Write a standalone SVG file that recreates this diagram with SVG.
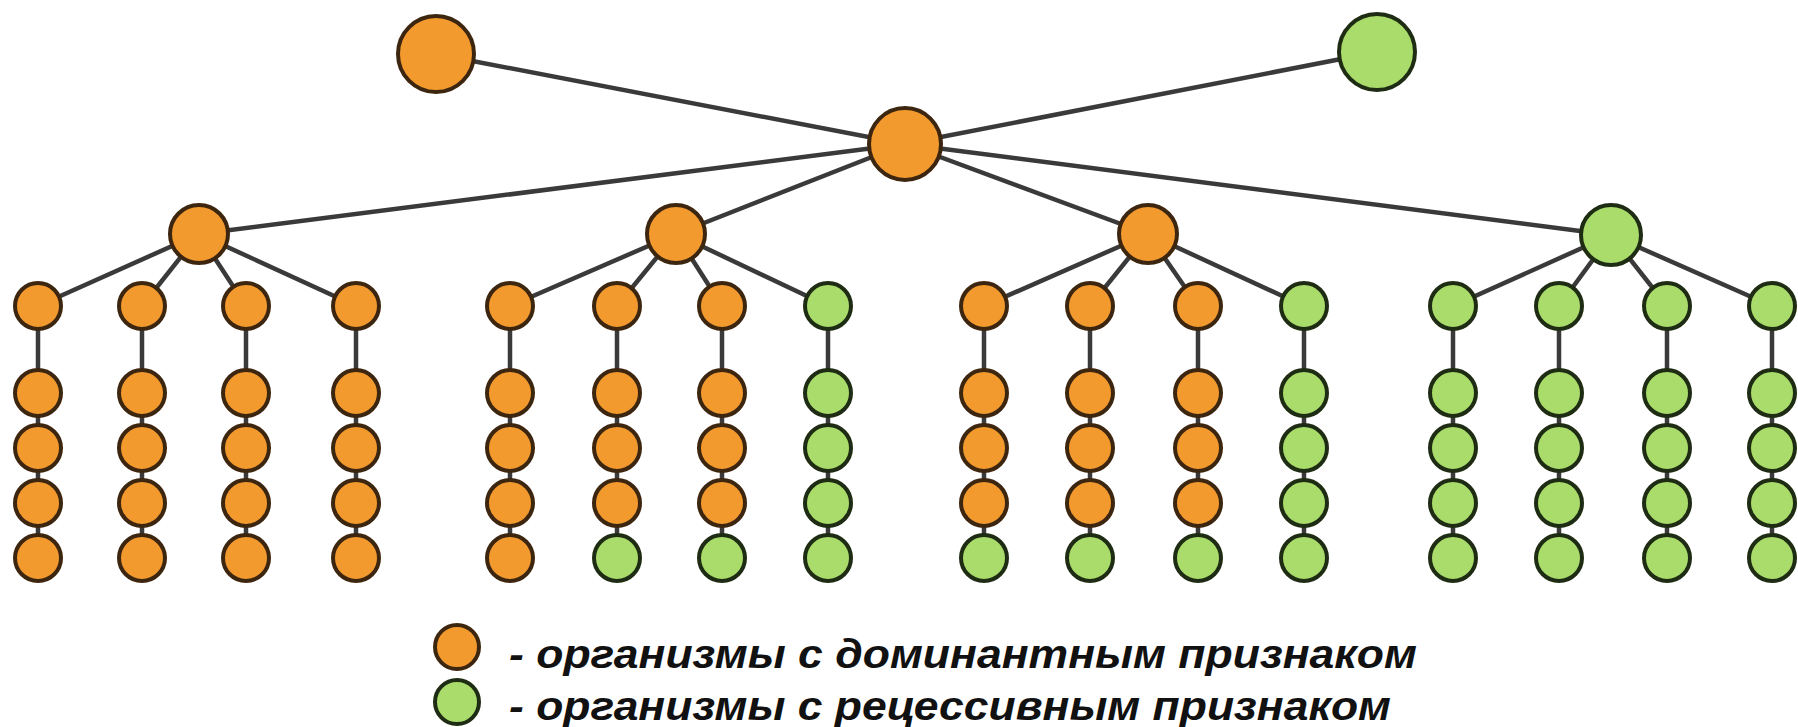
<svg xmlns="http://www.w3.org/2000/svg" width="1798" height="727" viewBox="0 0 1798 727">
<style>
.o{fill:#f39a2e;stroke:#3d2610;stroke-width:4}
.g{fill:#a9dc6a;stroke:#1f2c14;stroke-width:4}
.c line{stroke:#3a3a3a;stroke-width:4.5;stroke-linecap:round}
.t{font-family:"Liberation Sans",Arial,sans-serif;font-weight:bold;font-style:italic;font-size:40px;fill:#111}
</style>
<rect width="1798" height="727" fill="#fff"/>
<g id="connectors" class="c">
<line x1="436" y1="54" x2="905" y2="144"/>
<line x1="1377" y1="52" x2="905" y2="144"/>
<line x1="905" y1="144" x2="199" y2="234"/>
<line x1="905" y1="144" x2="676" y2="234"/>
<line x1="905" y1="144" x2="1148" y2="234"/>
<line x1="905" y1="144" x2="1611" y2="235"/>
<line x1="199" y1="234" x2="38" y2="306"/><line x1="199" y1="234" x2="142" y2="306"/><line x1="199" y1="234" x2="246" y2="306"/><line x1="199" y1="234" x2="356" y2="306"/>
<line x1="676" y1="234" x2="510" y2="306"/><line x1="676" y1="234" x2="617" y2="306"/><line x1="676" y1="234" x2="722" y2="306"/><line x1="676" y1="234" x2="828" y2="306"/>
<line x1="1148" y1="234" x2="984" y2="306"/><line x1="1148" y1="234" x2="1090" y2="306"/><line x1="1148" y1="234" x2="1198" y2="306"/><line x1="1148" y1="234" x2="1304" y2="306"/>
<line x1="1611" y1="235" x2="1453" y2="306"/><line x1="1611" y1="235" x2="1559" y2="306"/><line x1="1611" y1="235" x2="1667" y2="306"/><line x1="1611" y1="235" x2="1772" y2="306"/>
<line x1="38" y1="306" x2="38" y2="558"/><line x1="142" y1="306" x2="142" y2="558"/><line x1="246" y1="306" x2="246" y2="558"/><line x1="356" y1="306" x2="356" y2="558"/>
<line x1="510" y1="306" x2="510" y2="558"/><line x1="617" y1="306" x2="617" y2="558"/><line x1="722" y1="306" x2="722" y2="558"/><line x1="828" y1="306" x2="828" y2="558"/>
<line x1="984" y1="306" x2="984" y2="558"/><line x1="1090" y1="306" x2="1090" y2="558"/><line x1="1198" y1="306" x2="1198" y2="558"/><line x1="1304" y1="306" x2="1304" y2="558"/>
<line x1="1453" y1="306" x2="1453" y2="558"/><line x1="1559" y1="306" x2="1559" y2="558"/><line x1="1667" y1="306" x2="1667" y2="558"/><line x1="1772" y1="306" x2="1772" y2="558"/>
</g>
<g id="parent-dominant"><circle class="o" cx="436" cy="54" r="38"/></g>
<g id="parent-recessive"><circle class="g" cx="1377" cy="52" r="38"/></g>
<g id="f1"><circle class="o" cx="905" cy="144" r="36"/></g>
<g id="f2-1"><circle class="o" cx="199" cy="234" r="29"/></g>
<g id="f2-2"><circle class="o" cx="676" cy="234" r="29"/></g>
<g id="f2-3"><circle class="o" cx="1148" cy="234" r="29"/></g>
<g id="f2-4"><circle class="g" cx="1611" cy="235" r="30"/></g>
<g id="group1">
<circle class="o" cx="38" cy="306" r="23"/><circle class="o" cx="38" cy="393" r="23"/><circle class="o" cx="38" cy="448" r="23"/><circle class="o" cx="38" cy="503" r="23"/><circle class="o" cx="38" cy="558" r="23"/>
<circle class="o" cx="142" cy="306" r="23"/><circle class="o" cx="142" cy="393" r="23"/><circle class="o" cx="142" cy="448" r="23"/><circle class="o" cx="142" cy="503" r="23"/><circle class="o" cx="142" cy="558" r="23"/>
<circle class="o" cx="246" cy="306" r="23"/><circle class="o" cx="246" cy="393" r="23"/><circle class="o" cx="246" cy="448" r="23"/><circle class="o" cx="246" cy="503" r="23"/><circle class="o" cx="246" cy="558" r="23"/>
<circle class="o" cx="356" cy="306" r="23"/><circle class="o" cx="356" cy="393" r="23"/><circle class="o" cx="356" cy="448" r="23"/><circle class="o" cx="356" cy="503" r="23"/><circle class="o" cx="356" cy="558" r="23"/>
</g>
<g id="group2">
<circle class="o" cx="510" cy="306" r="23"/><circle class="o" cx="510" cy="393" r="23"/><circle class="o" cx="510" cy="448" r="23"/><circle class="o" cx="510" cy="503" r="23"/><circle class="o" cx="510" cy="558" r="23"/>
<circle class="o" cx="617" cy="306" r="23"/><circle class="o" cx="617" cy="393" r="23"/><circle class="o" cx="617" cy="448" r="23"/><circle class="o" cx="617" cy="503" r="23"/><circle class="g" cx="617" cy="558" r="23"/>
<circle class="o" cx="722" cy="306" r="23"/><circle class="o" cx="722" cy="393" r="23"/><circle class="o" cx="722" cy="448" r="23"/><circle class="o" cx="722" cy="503" r="23"/><circle class="g" cx="722" cy="558" r="23"/>
<circle class="g" cx="828" cy="306" r="23"/><circle class="g" cx="828" cy="393" r="23"/><circle class="g" cx="828" cy="448" r="23"/><circle class="g" cx="828" cy="503" r="23"/><circle class="g" cx="828" cy="558" r="23"/>
</g>
<g id="group3">
<circle class="o" cx="984" cy="306" r="23"/><circle class="o" cx="984" cy="393" r="23"/><circle class="o" cx="984" cy="448" r="23"/><circle class="o" cx="984" cy="503" r="23"/><circle class="g" cx="984" cy="558" r="23"/>
<circle class="o" cx="1090" cy="306" r="23"/><circle class="o" cx="1090" cy="393" r="23"/><circle class="o" cx="1090" cy="448" r="23"/><circle class="o" cx="1090" cy="503" r="23"/><circle class="g" cx="1090" cy="558" r="23"/>
<circle class="o" cx="1198" cy="306" r="23"/><circle class="o" cx="1198" cy="393" r="23"/><circle class="o" cx="1198" cy="448" r="23"/><circle class="o" cx="1198" cy="503" r="23"/><circle class="g" cx="1198" cy="558" r="23"/>
<circle class="g" cx="1304" cy="306" r="23"/><circle class="g" cx="1304" cy="393" r="23"/><circle class="g" cx="1304" cy="448" r="23"/><circle class="g" cx="1304" cy="503" r="23"/><circle class="g" cx="1304" cy="558" r="23"/>
</g>
<g id="group4">
<circle class="g" cx="1453" cy="306" r="23"/><circle class="g" cx="1453" cy="393" r="23"/><circle class="g" cx="1453" cy="448" r="23"/><circle class="g" cx="1453" cy="503" r="23"/><circle class="g" cx="1453" cy="558" r="23"/>
<circle class="g" cx="1559" cy="306" r="23"/><circle class="g" cx="1559" cy="393" r="23"/><circle class="g" cx="1559" cy="448" r="23"/><circle class="g" cx="1559" cy="503" r="23"/><circle class="g" cx="1559" cy="558" r="23"/>
<circle class="g" cx="1667" cy="306" r="23"/><circle class="g" cx="1667" cy="393" r="23"/><circle class="g" cx="1667" cy="448" r="23"/><circle class="g" cx="1667" cy="503" r="23"/><circle class="g" cx="1667" cy="558" r="23"/>
<circle class="g" cx="1772" cy="306" r="23"/><circle class="g" cx="1772" cy="393" r="23"/><circle class="g" cx="1772" cy="448" r="23"/><circle class="g" cx="1772" cy="503" r="23"/><circle class="g" cx="1772" cy="558" r="23"/>
</g>
<g id="legend-dominant">
<circle class="o" cx="457" cy="647" r="22"/>
<text class="t" x="509" y="668" textLength="908" lengthAdjust="spacingAndGlyphs">- организмы с доминантным признаком</text>
</g>
<g id="legend-recessive">
<circle class="g" cx="457" cy="702" r="22"/>
<text class="t" x="509" y="720" textLength="882" lengthAdjust="spacingAndGlyphs">- организмы с рецессивным признаком</text>
</g>
</svg>
